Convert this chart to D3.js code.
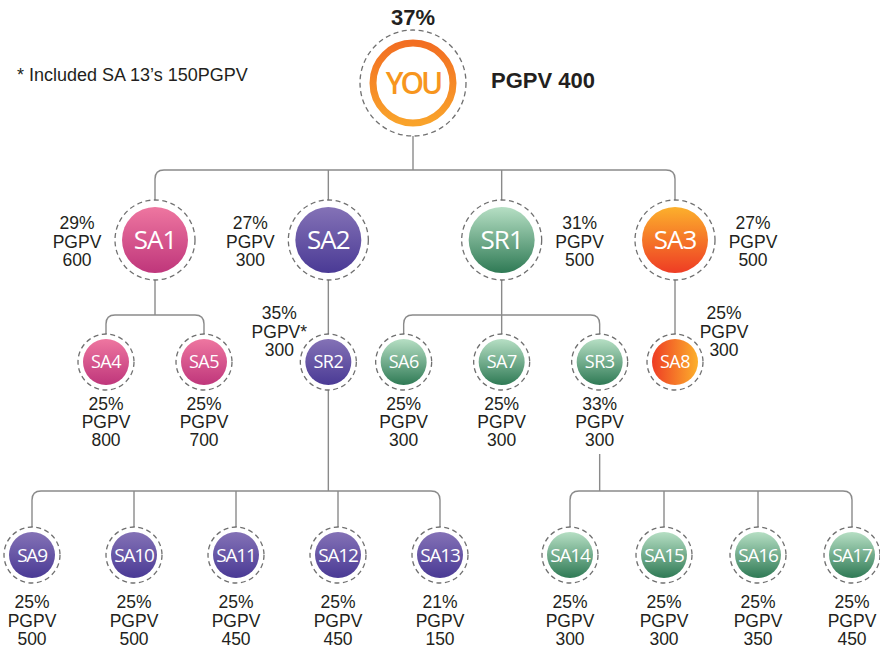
<!DOCTYPE html>
<html>
<head>
<meta charset="utf-8">
<script src="https://cdn.jsdelivr.net/npm/d3@7"></script>
<style>
body { margin: 0; background: #fff; }
svg { display: block; font-family: "Liberation Sans", Arial, sans-serif; }
</style>
</head>
<body>
<svg></svg>
<script>
// tree data
var names   = ["YOU", "SA1", "SA2", "SR1", "SA3", "SA4", "SA5", "SR2", "SA6", "SA7", "SR3", "SA8",
               "SA9", "SA10", "SA11", "SA12", "SA13", "SA14", "SA15", "SA16", "SA17"];
var parents = ["", "YOU", "YOU", "YOU", "YOU", "SA1", "SA1", "SA2", "SR1", "SR1", "SR1", "SA3",
               "SR2", "SR2", "SR2", "SR2", "SR2", "SR3", "SR3", "SR3", "SR3"];
var shares  = [37, 29, 27, 31, 27, 25, 25, 35, 25, 25, 33, 25, 25, 25, 25, 25, 21, 25, 25, 25, 25];
var pgpv    = [400, 600, 300, 500, 500, 800, 700, 300, 300, 300, 300, 300, 500, 500, 450, 450, 150, 300, 300, 350, 450];
var starred = ["SR2"];
var footnote = "* Included SA 13\u2019s 150PGPV";

// colours per first-level branch
var branchNames = ["SA1", "SA2", "SR1", "SA3"];
var branchTop    = ["#ee76a0", "#8472b6", "#b6dfc4", "#fcb02c"];
var branchBottom = ["#bf367b", "#4a3a95", "#2f7a55", "#ee3c24"];

var svgWidth = 880;
var svgHeight = 648;
var svg = d3.select('svg')
  .attr("width", svgWidth)
  .attr("height", svgHeight);

var table = names.map(function(n, i) {
  return { name: n, parent: parents[i], share: shares[i], pgpv: pgpv[i] };
});
var root = d3.stratify()
  .id(function(d) { return d.name; })
  .parentId(function(d) { return d.parent; })(table);

// layout settings
var rowY = [83, 240, 362, 555];
var dashR = [53, 40, 28, 28];
var fillR = [43.5, 33, 23, 23];
var busY = [0, 170, 315, 491];
var leafRanges = [[32, 440], [570, 852]];
var childGap = 98;
var lineColor = "#8a8a8a";
var textColor = "#231f20";

// x positions
var x1 = d3.scalePoint().domain(root.children.map(function(d) { return d.id; })).range([155, 675]);
root.children.forEach(function(c) { c.x = x1(c.id); });
root.x = (x1.range()[0] + x1.range()[1]) / 2 - 2;
root.children.forEach(function(c) {
  (c.children || []).forEach(function(g, i) {
    g.x = c.x + (i - (c.children.length - 1) / 2) * childGap;
  });
});
var leafGroups = root.descendants().filter(function(d) { return d.depth == 2 && d.children; });
leafGroups.forEach(function(p, k) {
  var xs = d3.scalePoint().domain(p.children.map(function(d) { return d.id; })).range(leafRanges[k]);
  p.children.forEach(function(c) { c.x = xs(c.id); });
});
root.each(function(d) {
  d.y = rowY[d.depth];
  d.branch = d.depth == 0 ? null : d.ancestors()[d.depth - 1].id;
  d.side = (d.depth == 1 || (d.depth == 2 && d.parent.children.length == 1))
    ? (d.x < root.x ? -1 : 1) : 0;
});

// gradients
var defs = svg.append("defs");
branchNames.forEach(function(b, i) {
  var g = defs.append("linearGradient").attr("id", "g-" + b)
    .attr("x1", 0).attr("y1", 0).attr("x2", 0).attr("y2", 1);
  g.append("stop").attr("offset", "0%").attr("stop-color", branchTop[i]);
  g.append("stop").attr("offset", "100%").attr("stop-color", branchBottom[i]);
  var h = defs.append("linearGradient").attr("id", "h-" + b)
    .attr("x1", 1).attr("y1", 0).attr("x2", 0).attr("y2", 0);
  h.append("stop").attr("offset", "0%").attr("stop-color", branchTop[i]);
  h.append("stop").attr("offset", "100%").attr("stop-color", branchBottom[i]);
});
var ring = defs.append("linearGradient").attr("id", "g-you")
  .attr("x1", 0).attr("y1", 0).attr("x2", 0).attr("y2", 1);
ring.append("stop").attr("offset", "0%").attr("stop-color", "#f26e22");
ring.append("stop").attr("offset", "100%").attr("stop-color", "#f9a32b");

// connectors
var links = svg.append("g").attr("fill", "none").attr("stroke", lineColor).attr("stroke-width", 1.4);
root.each(function(p) {
  if (!p.children) return;
  var kids = p.children;
  var startY = p.y + dashR[p.depth];
  if (p.depth == 2 && p.side == 0) startY = p.y + 92;
  if (kids.length == 1) {
    links.append("line")
      .attr("x1", p.x).attr("x2", kids[0].x)
      .attr("y1", startY).attr("y2", kids[0].y - dashR[kids[0].depth]);
    return;
  }
  var by = busY[kids[0].depth];
  var r = 9;
  var a = kids[0], b = kids[kids.length - 1];
  var ty = a.y - dashR[a.depth];
  links.append("line").attr("x1", p.x).attr("x2", p.x).attr("y1", startY).attr("y2", by);
  links.append("path").attr("d",
    "M" + a.x + "," + ty + "L" + a.x + "," + (by + r) +
    "Q" + a.x + "," + by + " " + (a.x + r) + "," + by +
    "L" + (b.x - r) + "," + by +
    "Q" + b.x + "," + by + " " + b.x + "," + (by + r) +
    "L" + b.x + "," + ty);
  kids.slice(1, -1).forEach(function(c) {
    links.append("line").attr("x1", c.x).attr("x2", c.x).attr("y1", by).attr("y2", c.y - dashR[c.depth]);
  });
});

// nodes
var nodes = svg.selectAll("g.node")
  .data(root.descendants())
  .enter()
  .append("g")
  .attr("class", "node")
  .attr("transform", function(d) { return "translate(" + d.x + "," + d.y + ")"; });

nodes.append("circle")
  .attr("r", function(d) { return dashR[d.depth]; })
  .attr("fill", "#fff")
  .attr("stroke", "#707070")
  .attr("stroke-width", 1.3)
  .attr("stroke-dasharray", "5,3.5");

nodes.append("circle")
  .attr("r", function(d) { return d.depth == 0 ? fillR[0] - 3.5 : fillR[d.depth]; })
  .attr("fill", function(d) {
    if (d.depth == 0) return "#fff";
    return (d.depth == 2 && d.side > 0 ? "url(#h-" : "url(#g-") + d.branch + ")";
  })
  .attr("stroke", function(d) { return d.depth == 0 ? "url(#g-you)" : "none"; })
  .attr("stroke-width", function(d) { return d.depth == 0 ? 7 : 0; });

var nameSize = [30, 26, 18, 19];
var nameSpace = [-3, -1, -0.5, -1.2];
nodes.append("text")
  .attr("text-anchor", "middle")
  .attr("dy", "0.36em")
  .attr("font-family", "'Open Sans', sans-serif")
  .attr("font-weight", function(d) { return d.depth == 0 ? 600 : 400; })
  .attr("font-size", function(d) { return nameSize[d.depth]; })
  .attr("letter-spacing", function(d) { return nameSpace[d.depth]; })
  .attr("fill", function(d) { return d.depth == 0 ? "#f7961e" : "#fff"; })
  .text(function(d) { return d.id; });

// labels
var labels = nodes.filter(function(d) { return d.depth > 0; })
  .append("text")
  .attr("text-anchor", "middle")
  .attr("font-size", 17.5)
  .attr("fill", textColor);

function labelPos(d) {
  if (d.depth == 1) return { x: d.side * 78, y: [-11, 8, 26] };
  if (d.side != 0) return { x: d.side * 49, y: [-43, -24, -6] };
  if (d.depth == 2) return { x: 0, y: [48, 66, 84] };
  return { x: 0, y: [53, 72, 90] };
}
labels.each(function(d) {
  var p = labelPos(d);
  var t = d3.select(this);
  var lines = [d.data.share + "%", "PGPV" + (starred.indexOf(d.id) >= 0 ? "*" : ""), d.data.pgpv];
  lines.forEach(function(s, i) {
    t.append("tspan").attr("x", p.x).attr("y", p.y[i]).text(s);
  });
});

svg.append("text")
  .attr("x", root.x).attr("y", root.y - dashR[0] - 5)
  .attr("text-anchor", "middle")
  .attr("font-size", 22).attr("font-weight", "bold").attr("fill", textColor)
  .text(root.data.share + "%");

svg.append("text")
  .attr("x", root.x + 78).attr("y", root.y + 5)
  .attr("font-size", 22).attr("font-weight", "bold").attr("fill", textColor)
  .text("PGPV " + root.data.pgpv);

svg.append("text")
  .attr("x", 17).attr("y", 81)
  .attr("font-size", 18).attr("fill", textColor)
  .text(footnote);
</script>
</body>
</html>
